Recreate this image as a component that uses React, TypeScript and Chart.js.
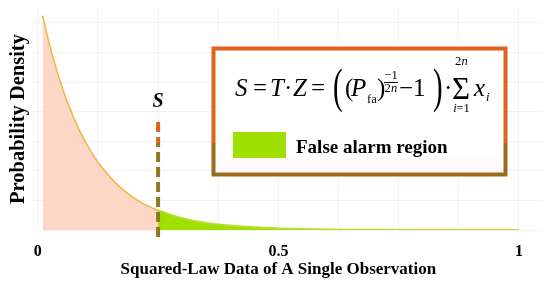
import React, { useEffect, useRef } from "react";
import { Chart, registerables } from "chart.js";
Chart.register(...registerables);

// Density below the threshold (x, y)
const belowX = [0.01, 0.025, 0.05, 0.075, 0.1, 0.125, 0.15, 0.175, 0.2, 0.225, 0.25];
const belowY = [7.24, 6.23, 4.85, 3.78, 2.94, 2.29, 1.79, 1.39, 1.08, 0.84, 0.66];
// Density in the false alarm region (x, y)
const alarmX = [0.25, 0.3, 0.35, 0.4, 0.45, 0.5, 0.55, 0.6, 0.65, 0.7, 0.8, 0.9, 1.0];
const alarmY = [0.66, 0.4, 0.24, 0.15, 0.09, 0.054, 0.033, 0.02, 0.012, 0.007, 0.003, 0.001, 0.0];
// Threshold marker
const threshold = 0.25;
const markerYs = [3.65, -0.4];
const markerSplit = 2.95;
// Axis grid / tick values
const xGrid = [0, 0.125, 0.25, 0.375, 0.5, 0.625, 0.75, 0.875, 1];
const xTickLabels: Record<string, string> = { "0": "0", "0.5": "0.5", "1": "1" };
const yGrid = [0, 1, 2, 3, 4, 5, 6, 7];
const xTitle = "Squared-Law Data of A Single Observation";
const yTitle = "Probability Density";
const legendLabel = "False alarm region";

const SERIF = '"Liberation Serif", "Times New Roman", serif';
const PINK = "#fcd6c6";
const GREEN = "#a0e000";
const ORANGE = "#e2621c";
const OLIVE = "#8c7a1c";

const overlay = {
  id: "overlay",
  afterDatasetsDraw(chart: any) {
    const c: CanvasRenderingContext2D = chart.ctx;
    const xs = chart.scales.x;
    const t = (s: string, x: number, y: number, font: string, align: CanvasTextAlign = "left") => {
      c.font = font;
      c.textAlign = align;
      c.fillText(s, x, y);
    };
    c.save();
    c.fillStyle = "#000";
    c.textBaseline = "alphabetic";
    // S label above the marker
    t("S", xs.getPixelForValue(threshold), 107, `italic bold 20px ${SERIF}`, "center");

    // X axis title, centred on the 0..1 range
    const xc = (xs.getPixelForValue(0) + xs.getPixelForValue(1)) / 2;
    t(xTitle, xc, 274, `bold 17px ${SERIF}`, "center");

    // Box
    const L = 213.5, T = 48.5, R = 505.5, B = 174.5;
    c.fillStyle = "#fff";
    c.fillRect(L, T, R - L, B - T);
    c.fillStyle = "rgba(250,200,240,0.1)";
    c.fillRect(L + 2, 158, R - L - 4, 14);
    const split = (143 - T) / (B - T);
    const g = c.createLinearGradient(0, T, 0, B);
    g.addColorStop(0, ORANGE);
    g.addColorStop(split, ORANGE);
    g.addColorStop(split, "#9c6b17");
    g.addColorStop(1, "#9c6b17");
    c.strokeStyle = g;
    c.lineWidth = 4;
    c.strokeRect(L, T, R - L, B - T);

    // Formula
    c.fillStyle = "#000";
    const main = `25px ${SERIF}`;
    const it = `italic 25px ${SERIF}`;
    const sm = `12.5px ${SERIF}`;
    const smIt = `italic 12.5px ${SERIF}`;
    const by = 96;
    t("S", 235, by, it);
    t("=", 253, by, main);
    t("T", 270, by, it);
    t("\u00b7", 284, by, main);
    t("Z", 293, by, it);
    t("=", 311, by, main);
    // big (
    c.save();
    c.translate(333, 102);
    c.scale(0.6, 1);
    t("(", 0, 0, `48px ${SERIF}`);
    c.restore();
    t("(", 345, by, main);
    t("P", 351, by, it);
    t("fa", 367, 103, sm);
    t(")", 377, by, main);
    t("\u22121", 391, 79, sm, "center");
    c.fillRect(384, 82, 14, 1);
    t("2", 387.5, 92, sm, "center");
    t("n", 394, 92, smIt, "center");
    t("\u22121", 399, by, main);
    c.save();
    c.translate(433, 102);
    c.scale(0.6, 1);
    t(")", 0, 0, `48px ${SERIF}`);
    c.restore();
    t("\u00b7", 444, by, main);
    t("\u03a3", 461, 99, `31px ${SERIF}`, "center");
    t("2", 458, 65, sm, "center");
    t("n", 464.5, 65, smIt, "center");
    t("i", 455, 112, smIt, "center");
    t("=1", 463, 112, sm, "center");
    t("x", 474, by, it);
    t("i", 486, 101, smIt);

    // Legend
    c.fillStyle = GREEN;
    c.fillRect(233, 132, 53, 26);
    c.fillStyle = "#000";
    t(legendLabel, 296, 153, `bold 19px ${SERIF}`);
    c.restore();
  },
};

export default function App() {
  const ref = useRef<HTMLCanvasElement>(null);
  useEffect(() => {
    if (!ref.current) return;
    const markerColor = (ctx: any) => {
      const chart = ctx.chart;
      if (!chart.chartArea) return ORANGE;
      const ys = chart.scales.y;
      const top = ys.getPixelForValue(markerYs[0]);
      const bot = ys.getPixelForValue(markerYs[1]);
      const mid = ys.getPixelForValue(markerSplit);
      const g = chart.ctx.createLinearGradient(0, top, 0, bot);
      const f = (mid - top) / (bot - top);
      g.addColorStop(0, ORANGE);
      g.addColorStop(f, ORANGE);
      g.addColorStop(f, OLIVE);
      g.addColorStop(1, OLIVE);
      return g;
    };
    const chart = new Chart(ref.current, {
      type: "line",
      data: {
        datasets: [
          {
            data: markerYs.map((y) => ({ x: threshold, y })),
            borderColor: markerColor,
            borderWidth: 4,
            borderDash: [10, 5],
            pointRadius: 0,
            fill: false,
            clip: false as any,
            order: 0,
          },
          {
            data: belowX.map((x, i) => ({ x, y: belowY[i] })),
            borderColor: "#f0b545",
            borderWidth: 1.5,
            backgroundColor: PINK,
            fill: "origin",
            pointRadius: 0,
            cubicInterpolationMode: "monotone",
            order: 2,
          },
          {
            data: alarmX.map((x, i) => ({ x, y: alarmY[i] })),
            borderColor: "#b4e02a",
            borderWidth: 2,
            backgroundColor: GREEN,
            fill: "origin",
            pointRadius: 0,
            cubicInterpolationMode: "monotone",
            order: 1,
          },
        ],
      },
      options: {
        animation: false,
        responsive: false,
        layout: { padding: { left: 0, right: 7, top: 8, bottom: 0 } },
        plugins: { legend: { display: false }, tooltip: { enabled: false } },
        scales: {
          x: {
            type: "linear",
            min: -0.01,
            max: 1.05,
            afterBuildTicks: (s: any) => {
              s.ticks = xGrid.map((v) => ({ value: v }));
            },
            afterFit: (s: any) => {
              s.height = 52;
            },
            grid: { color: "rgba(0,0,0,0.05)", drawTicks: false },
            border: { display: false },
            ticks: {
              autoSkip: false,
              maxRotation: 0,
              padding: 12,
              color: "#000",
              font: { family: SERIF, size: 16, weight: "bold" },
              callback: (v: any) => xTickLabels[String(v)] ?? "",
            },
            title: { display: false },
          },
          y: {
            min: 0,
            max: 7.5,
            afterBuildTicks: (s: any) => {
              s.ticks = yGrid.map((v) => ({ value: v }));
            },
            afterFit: (s: any) => {
              s.width = 33;
            },
            grid: { color: "rgba(0,0,0,0.05)", drawTicks: false },
            border: { display: false },
            ticks: { display: false },
            title: {
              display: true,
              text: yTitle,
              color: "#000",
              font: { family: SERIF, size: 20.5, weight: "bold" },
              padding: { top: 6, bottom: 0 },
            },
          },
        },
      },
      plugins: [overlay],
    } as any);
    return () => chart.destroy();
  }, []);
  return (
    <div style={{ position: "fixed", left: 0, top: 0, width: 550, height: 282, background: "#fff" }}>
      <canvas ref={ref} width={550} height={282} style={{ display: "block" }} />
    </div>
  );
}
